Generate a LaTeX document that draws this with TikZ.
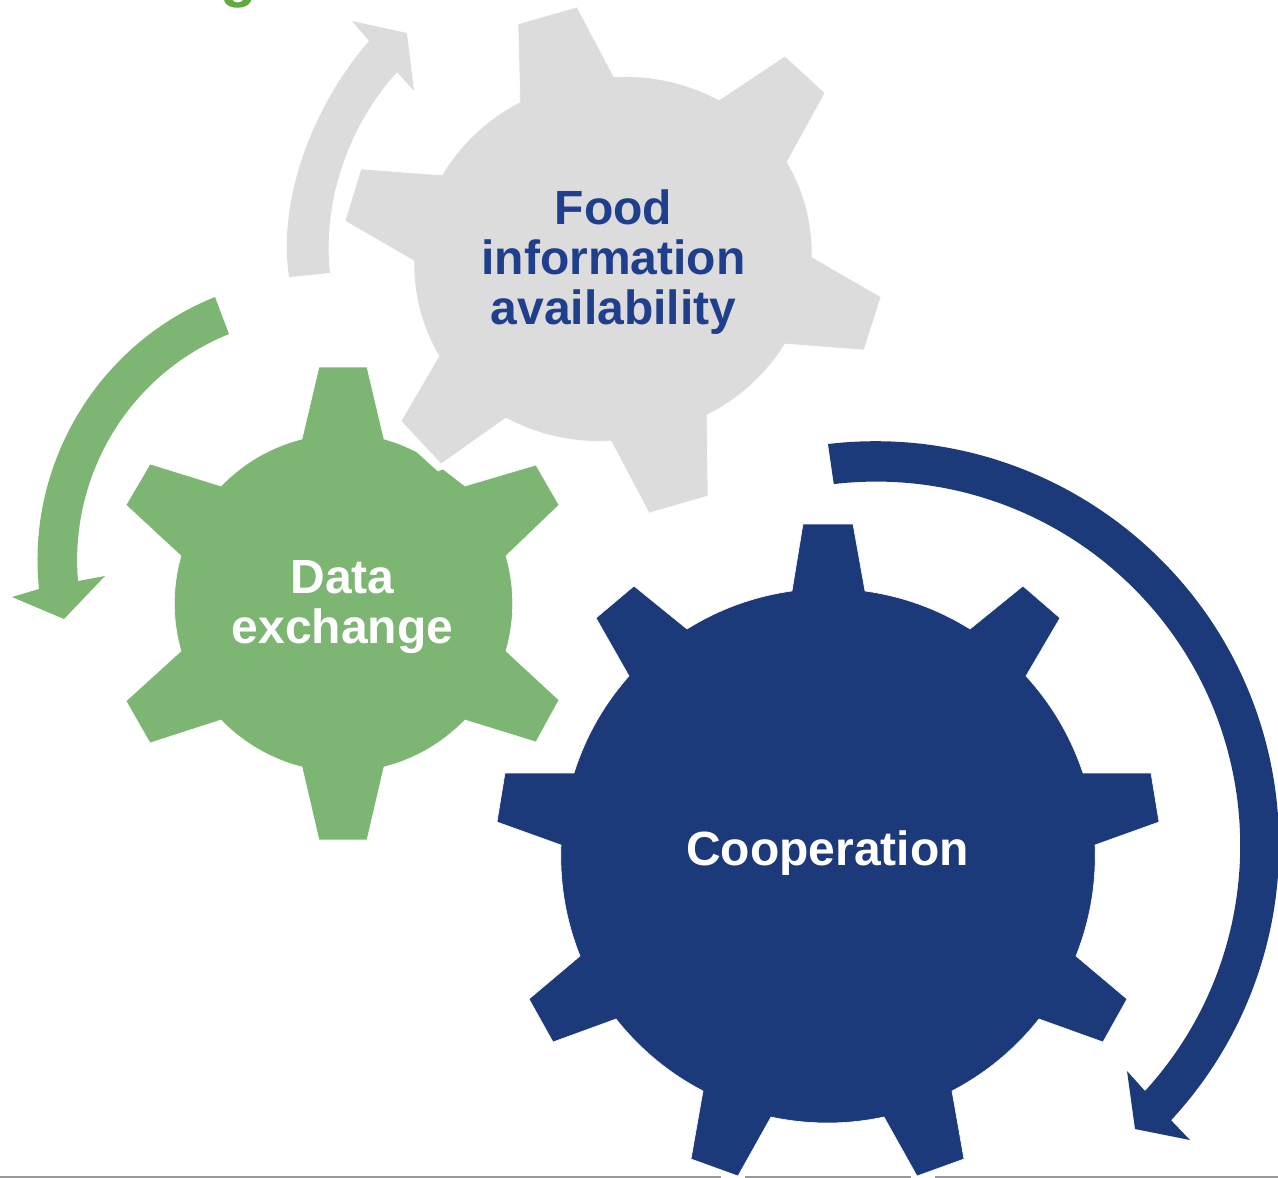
\documentclass[tikz,border=0pt]{standalone}
\usepackage{fontspec}
\setmainfont{Liberation Sans}
\definecolor{gearblue}{HTML}{1C3A7A}
\definecolor{geargreen}{HTML}{7DB572}
\definecolor{geargray}{HTML}{DCDCDC}
\definecolor{foodtext}{HTML}{1F3F8C}
\definecolor{titlegreen}{HTML}{62AB41}
\definecolor{rulegray}{HTML}{999999}
\tikzset{
  gearshape/.style={draw=white,line width=0.6pt,line join=miter},
  arcs/.style={bend left=#1,looseness=0.87},
  geartext/.style={font=\fontsize{48}{50}\selectfont\bfseries,align=center,inner sep=0pt},
}
\begin{document}
\begin{tikzpicture}[x=1pt,y=-1pt]
\useasboundingbox (0,0) rectangle (1278,1178);
\clip (0,0) rectangle (1278,1178);
\node[font=\fontsize{60}{60}\selectfont\bfseries,text=titlegreen,anchor=base,inner sep=0pt] (titlefrag) at (238.5,-4.5) {g};
\draw[rulegray,line width=2pt] (0,1177) -- (721,1177) (745,1177) -- (911,1177) (935,1177) -- (1278,1177);
% grey arrow
\fill[geargray] (289,277) .. controls (277,195) and (316,102) .. (369,41) -- (352,21) -- (407,33) -- (414,91) -- (397,72) .. controls (350,124) and (322,199) .. (330,273) -- cycle;
% green arrow
\fill[geargreen] (215,297) .. controls (98,344) and (26,464) .. (39,589) -- (12,597) -- (64,619) -- (105,576) -- (78,581) .. controls (69,474) and (130,374) .. (229,334) -- cycle;
% blue arrow
\fill[gearblue] (828,444) arc[start angle=-96.7,end angle=42.9,radius=404] -- (1190,1140) -- (1135,1129) -- (1127,1071) -- (1145,1091) arc[start angle=42.4,end angle=-96.7,radius=364] -- cycle;
% green gear
\path[gearshape,fill=geargreen] (302,439) -- (319,367) -- (367,367) -- (384,439)
 to[arcs=6] (417,452) -- (438,471) -- (443,469) -- (465,486) -- (536,465) -- (559,505) -- (506,556)
 to[arcs=16] (506,651) -- (559,700) -- (536,742) -- (465,720)
 to[arcs=16] (384,767) -- (367,840) -- (319,840) -- (302,767)
 to[arcs=16] (221,720) -- (150,743) -- (126,701) -- (181,651)
 to[arcs=16] (181,556) -- (126,505) -- (150,464) -- (221,486)
 to[arcs=16] (302,439) -- cycle;
% grey gear
\path[gearshape,fill=geargray] (520,102) -- (518,24) -- (577,7) -- (614,77)
 to[arcs=16] (719,100) -- (785,56) -- (825,93) -- (787,162)
 to[arcs=16] (812,257) -- (881,297) -- (864,350) -- (785,344)
 to[arcs=16] (707,415) -- (708,496) -- (649,513) -- (611,441)
 to[arcs=16] (506,418) -- (441,464) -- (401,421) -- (439,356)
 to[arcs=16] (414,261) -- (345,221) -- (361,169) -- (442,175)
 to[arcs=16] (520,102) -- cycle;
% blue gear
\path[gearshape,fill=gearblue] (792,591) -- (803,524) -- (853,524) -- (865,591)
 to[arcs=12] (970,629) -- (1023,586) -- (1060,618) -- (1026,676)
 to[arcs=12] (1083,773) -- (1151,773) -- (1159,822) -- (1095,845)
 to[arcs=12] (1076,956) -- (1127,999) -- (1103,1042) -- (1039,1019)
 to[arcs=12] (952,1091) -- (964,1159) -- (917,1176) -- (884,1117)
 to[arcs=12] (771,1117) -- (738,1176) -- (691,1159) -- (703,1091)
 to[arcs=12] (616,1019) -- (553,1042) -- (529,999) -- (580,956)
 to[arcs=12] (561,845) -- (497,822) -- (505,773) -- (574,773)
 to[arcs=12] (629,676) -- (596,618) -- (634,586) -- (687,629)
 to[arcs=12] (792,591) -- cycle;
\node[geartext,text=foodtext] (food) at (613.5,262.5) {Food\\information\\availability};
\node[geartext,text=white] (data) at (342.5,607.5) {Data\\exchange};
\node[geartext,text=white] (coop) at (827.5,853) {Cooperation};
\end{tikzpicture}
\end{document}
